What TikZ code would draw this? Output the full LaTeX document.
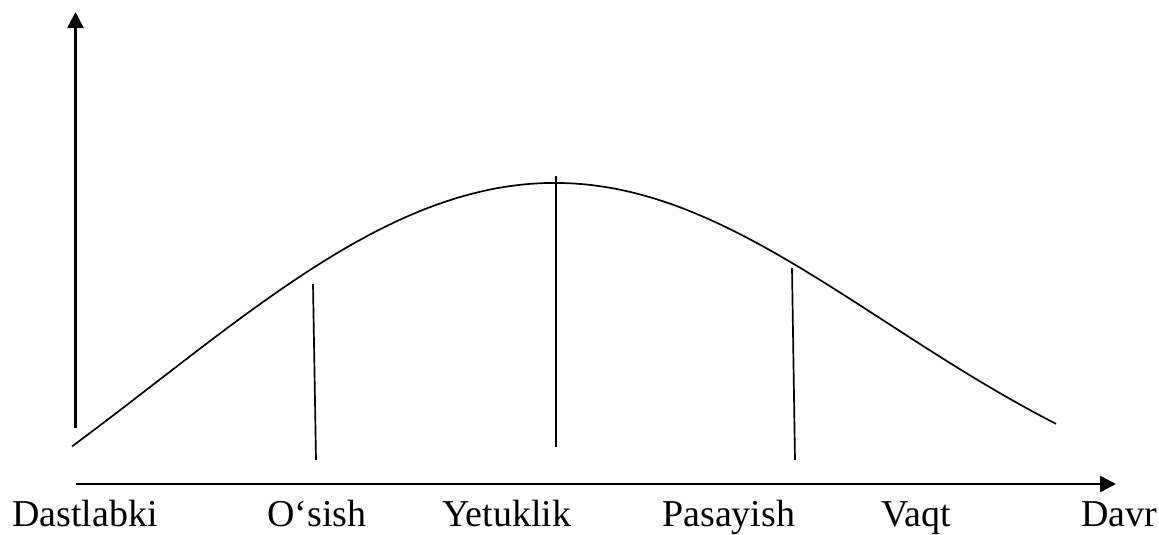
\documentclass[tikz,border=0pt]{standalone}
\usepackage{fontspec}
\setmainfont{Liberation Serif}
\usetikzlibrary{arrows.meta, positioning, calc}

\begin{document}
\begin{tikzpicture}[
    x=0.025cm, y=-0.025cm,
    axis/.style={line width=1.9pt, -{Triangle[length=0.4cm, width=0.4cm]}},
    stage line/.style={line width=1.2pt},
    life curve/.style={line width=1.2pt},
    stage label/.style={anchor=base west, inner sep=0pt, font=\fontsize{27}{32}\selectfont}
]
    \useasboundingbox (0,0) rectangle (1159,534);

    % ================= AXES =================
    \coordinate (YBOT) at (75.5, 428);
    \coordinate (YTOP) at (75.5, 12);
    \coordinate (XLEFT) at (76, 484);
    \coordinate (XRIGHT) at (1116, 484);

    \draw[axis] (YBOT) -- (YTOP);
    \draw[axis] (XLEFT) -- (XRIGHT);

    % ================= CURVE =================
    \draw[life curve] plot[domain=72:555, samples=60, smooth]
        (\x, {183 + 509*(1 - exp(-0.5*((\x-555)/400)^2))})
        -- plot[domain=555:1056, samples=60, smooth]
        (\x, {183 + 352*(1 - exp(-0.5*((\x-555)/330)^2))});

    % ================= STAGE LINES =================
    \coordinate (GTOP) at (313, 284);
    \coordinate (GBOT) at (316, 460);
    \coordinate (MTOP) at (556, 176);
    \coordinate (MBOT) at (556, 447);
    \coordinate (DTOP) at (792, 268);
    \coordinate (DBOT) at (795, 460);

    \draw[stage line] (GTOP) -- (GBOT);
    \draw[stage line] (MTOP) -- (MBOT);
    \draw[stage line] (DTOP) -- (DBOT);

    % ================= LABELS =================
    \node[stage label] (START) at (12, 526) {Dastlabki};
    \node[stage label] (GROW) at (267, 526) {O‘sish};
    \node[stage label] (MATURE) at (442, 526) {Yetuklik};
    \node[stage label] (DECLINE) at (662, 526) {Pasayish};
    \node[stage label] (TIME) at (881, 526) {Vaqt};
    \node[stage label] (PERIOD) at (1081, 526) {Davr};

\end{tikzpicture}
\end{document}
